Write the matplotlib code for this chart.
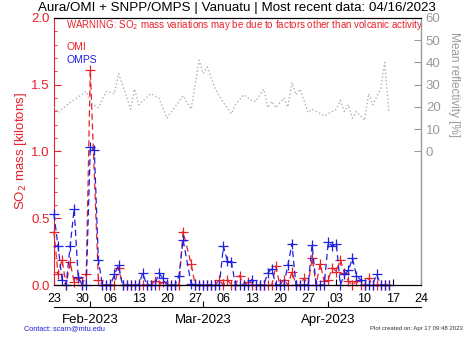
import numpy as np
import matplotlib
matplotlib.use("Agg")
import matplotlib.pyplot as plt
import matplotlib.dates as mdates

plt.rcParams['font.family'] = ['Liberation Sans', 'DejaVu Sans']

# ---- data (day offsets from 2023-01-23) ----
start = np.datetime64('2023-01-23')
so2_days = np.arange(84)
omi_mass = [0.40, 0.08, 0.19, 0.0, 0.17, 0.02, 0.05, 0.0, 0.08, 1.61,
            np.nan, 0.04, 0.0, 0.0, 0.0, 0.0, 0.13, 0.0, 0.0, 0.0,
            0.0, 0.0, 0.0, 0.0, 0.0, 0.03, 0.0, 0.02, 0.0, 0.0,
            0.0, 0.0, 0.40, np.nan, 0.16, 0.0, 0.0, 0.0, 0.0, 0.0,
            0.0, 0.04, 0.0, 0.04, 0.0, 0.0, 0.07, 0.0, 0.02, 0.0,
            0.0, 0.0, 0.0, 0.0, 0.0, 0.14, 0.0, 0.04, 0.0, 0.10,
            0.0, 0.0, 0.05, 0.0, 0.20, 0.0, 0.16, 0.03, 0.04, 0.13,
            0.10, 0.19, 0.09, 0.03, 0.0, 0.03, 0.0, 0.0, 0.05, 0.0,
            0.0, 0.0, 0.0, 0.0]
omps_mass = [0.53, 0.29, 0.04, 0.0, 0.29, 0.57, 0.06, 0.0, 0.0, 1.03,
             1.01, 0.19, 0.0, 0.0, 0.0, 0.08, 0.15, 0.0, 0.0, 0.0,
             0.0, 0.0, 0.09, 0.0, 0.0, 0.0, 0.09, 0.05, 0.0, 0.0,
             0.0, 0.07, 0.34, np.nan, 0.01, 0.0, 0.0, 0.0, 0.0, 0.0,
             0.0, 0.0, 0.29, 0.18, 0.17, 0.0, 0.0, 0.0, 0.0, 0.04,
             0.0, 0.0, 0.0, 0.09, 0.12, 0.0, 0.0, 0.0, 0.15, 0.31,
             0.0, 0.0, 0.0, 0.0, 0.30, 0.0, 0.0, 0.0, 0.32, 0.29,
             0.31, 0.0, 0.08, 0.11, 0.20, 0.07, 0.04, 0.0, 0.0, 0.0,
             0.08, 0.0, 0.0, 0.0]

refl_days = [0, 1, 4, 8, 9, 11, 13, 15, 16, 17, 19, 20, 21, 24, 26, 28, 30, 32,
             34, 36, 37, 38, 40, 42, 44, 45, 47, 49, 50, 52, 53, 54, 55, 57,
             58, 59, 60, 61, 63, 64, 67, 68, 70, 71, 72, 73, 74, 75, 77, 78,
             79, 81, 82, 83]
refl_vals = [20, 17.5, 22, 27, 22, 19.7, 27, 26, 35, 30, 19, 28, 21, 26, 24, 15,
             20, 25, 19, 41, 35, 38, 28, 22, 17, 21, 25.5, 23, 22.5, 28, 19.7,
             22.5, 19.7, 24, 20, 31, 25.5, 28, 17.5, 19, 16, 17, 19, 23, 18,
             21, 15, 18, 14, 26, 21, 28, 40, 18]

red = '#e8202a'
blue = '#2020e0'
gray = '#999999'

fig = plt.figure(figsize=(4.74, 3.38), dpi=100)
ax = fig.add_axes([0.1139, 0.1568, 0.7743, 0.79])

def plot_series(vals, color):
    v = np.array(vals, dtype=float)
    ok = ~np.isnan(v)
    d = start + so2_days[ok].astype('timedelta64[D]')
    ax.plot(d, v[ok], color=color, ls=(0, (5, 3)), lw=0.9,
            marker='+', ms=6.5, mew=0.9, clip_on=False, zorder=3)

plot_series(omi_mass, red)
plot_series(omps_mass, blue)

ax.set_xlim(np.datetime64('2023-01-23'), np.datetime64('2023-04-24'))
ax.set_ylim(0, 2.0)
ax.set_yticks([0, 0.5, 1.0, 1.5, 2.0])
ax.set_yticks(np.arange(0, 2.01, 0.1), minor=True)
ax.yaxis.set_major_formatter(matplotlib.ticker.FormatStrFormatter('%.1f'))
ax.tick_params(axis='y', which='major', direction='in', length=5, colors=red,
               labelsize=9.5, pad=3)
ax.tick_params(axis='y', which='minor', direction='in', length=2.5, colors=red)
ax.spines['left'].set_color(red)
ax.set_ylabel('SO$_2$ mass [kilotons]', color=red, fontsize=9.5, labelpad=2)

ax.xaxis.set_major_locator(mdates.WeekdayLocator(byweekday=mdates.MO))
ax.xaxis.set_major_formatter(mdates.DateFormatter('%d'))
ax.tick_params(axis='x', direction='in', length=4, top=True, labelsize=9,
               pad=6)

ax.text(0.033, 0.972, 'WARNING: SO$_2$ mass variations may be due to factors other than volcanic activity',
        transform=ax.transAxes, color=red, fontsize=7.0, va='center')
ax.text(0.033, 0.891, 'OMI', transform=ax.transAxes, color=red, fontsize=7.5, va='center')
ax.text(0.033, 0.843, 'OMPS', transform=ax.transAxes, color=blue, fontsize=7.5, va='center')

# reflectivity on the right axis
ax2 = ax.twinx()
refl_dates = start + np.array(refl_days).astype('timedelta64[D]')
ax2.plot(refl_dates, refl_vals, color='#b0b0b0', ls=':', lw=1.0)
ax2.set_ylim(-60, 60)
ax2.set_yticks([0, 10, 20, 30, 40, 50, 60])
ax2.tick_params(axis='y', direction='in', length=5, colors=gray, labelsize=9.5)
ax2.spines['right'].set_color(gray)
ax2.spines['left'].set_visible(False)
ax2.set_ylabel('Mean reflectivity [%]', color=gray, fontsize=8.5, rotation=270)
ax2.yaxis.set_label_coords(1.105, 0.75)

# month axis below
ax3 = ax.twiny()
ax3.set_xlim(ax.get_xlim())
ax3.xaxis.set_ticks_position('bottom')
ax3.xaxis.set_label_position('bottom')
ax3.spines['bottom'].set_position(('outward', 16))
for s in ['top', 'left', 'right']:
    ax3.spines[s].set_visible(False)
ax3.xaxis.set_major_locator(mdates.MonthLocator())
ax3.xaxis.set_major_formatter(mdates.DateFormatter('%b-%Y'))
ax3.tick_params(axis='x', direction='in', length=4, labelsize=9.5, pad=5)

fig.text(0.5, 0.975, 'Aura/OMI + SNPP/OMPS | Vanuatu | Most recent data: 04/16/2023',
         ha='center', va='center', fontsize=9.6)
fig.text(0.05, 0.027, 'Contact: scarn@mtu.edu', color=blue, fontsize=5.3, va='center')
fig.text(0.977, 0.027, 'Plot created on: Apr 17 09:48 2023', color='#333333',
         fontsize=4.3, ha='right', va='center')

fig.savefig('out.png', dpi=100)
